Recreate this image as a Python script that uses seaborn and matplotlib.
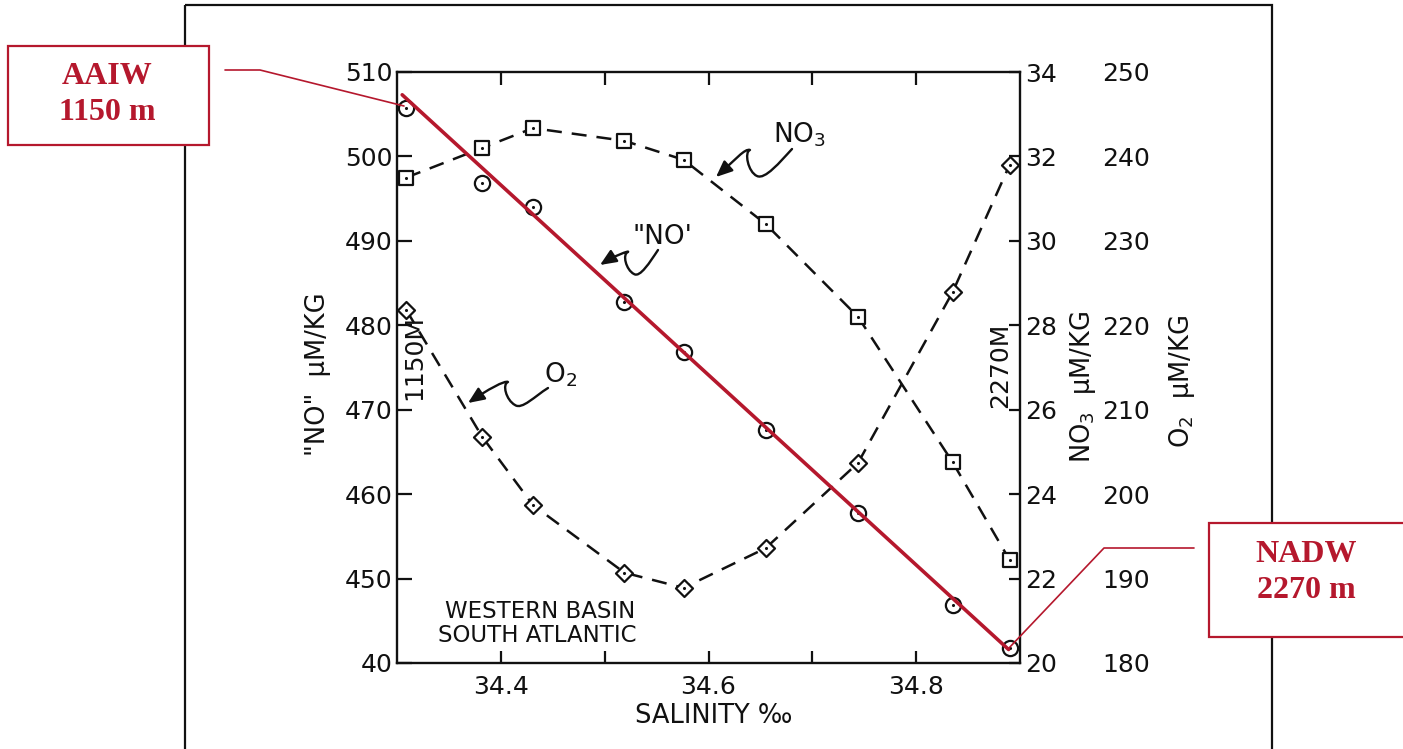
import numpy as np
import pandas as pd
import matplotlib
matplotlib.use("Agg")
import matplotlib.pyplot as plt
import seaborn as sns
from matplotlib.patches import Rectangle, FancyArrowPatch
from matplotlib.path import Path
from matplotlib.lines import Line2D
from matplotlib.transforms import Affine2D
from matplotlib.ticker import FixedLocator, FixedFormatter

# ---------------- data ----------------
salinity = [34.309, 34.382, 34.431, 34.519, 34.576, 34.655, 34.744, 34.835, 34.890]
no_values = [505.7, 496.9, 494.0, 482.8, 476.8, 467.6, 457.8, 446.9, 441.8]
no3_values = [31.5, 32.2, 32.67, 32.37, 31.92, 30.4, 28.2, 24.76, 22.44]
o2_values = [221.8, 206.8, 198.7, 190.7, 188.9, 193.6, 203.7, 223.9, 239.0]

# mixing line between the two end members (AAIW -> NADW)
mixing_salinity = [34.305, 34.889]
mixing_no = [507.3, 441.6]

x_major = [34.4, 34.6, 34.8]
x_major_labels = ["34.4", "34.6", "34.8"]
x_minor = [34.5, 34.7]
no_ticks = [440, 450, 460, 470, 480, 490, 500, 510]
no_tick_labels = ["40", "450", "460", "470", "480", "490", "500", "510"]
no3_ticks = [20, 22, 24, 26, 28, 30, 32, 34]
no3_tick_labels = ["20", "22", "24", "26", "28", "30", "32", "34"]
o2_ticks = [180, 190, 200, 210, 220, 230, 240, 250]
o2_tick_labels = ["180", "190", "200", "210", "220", "230", "240", "250"]

df = pd.DataFrame({"salinity": salinity, "NO": no_values,
                   "NO3": no3_values, "O2": o2_values})
mix = pd.DataFrame({"salinity": mixing_salinity, "NO": mixing_no})

# ---------------- style ----------------
sns.set_theme(style="white")
plt.rcParams["font.family"] = ["DejaVu Sans"]
ink = "#111111"
red = "#b5182d"
serif = ["Liberation Serif", "DejaVu Serif"]

W, H = 1403, 749
fig = plt.figure(figsize=(W / 100, H / 100), dpi=100)
fig.patch.set_facecolor("white")
px = Affine2D().scale(1 / W, -1 / H).translate(0, 1) + fig.transFigure

ax = fig.add_axes([397 / W, 1 - 663 / H, (1020 - 397) / W, (663 - 72) / H])
ax2 = ax.twinx()
ax3 = ax.twinx()
for a in (ax2, ax3):
    a.set_zorder(1)
    for s in a.spines.values():
        s.set_visible(False)
ax.set_zorder(2)
ax.patch.set_visible(False)

dash = (0, (6, 4))

# NO3 (squares) on ax2
sns.lineplot(data=df, x="salinity", y="NO3", ax=ax2, color=ink, lw=1.8,
             linestyle=dash, zorder=2)
sns.scatterplot(data=df, x="salinity", y="NO3", ax=ax2, marker="s", s=100,
                facecolor="white", edgecolor=ink, linewidth=1.6, zorder=4)
sns.scatterplot(data=df, x="salinity", y="NO3", ax=ax2, marker="o", s=5,
                color=ink, linewidth=0, zorder=5)

# O2 (diamonds) on ax3
sns.lineplot(data=df, x="salinity", y="O2", ax=ax3, color=ink, lw=1.8,
             linestyle=dash, zorder=2)
sns.scatterplot(data=df, x="salinity", y="O2", ax=ax3, marker="D", s=75,
                facecolor="white", edgecolor=ink, linewidth=1.6, zorder=4)
sns.scatterplot(data=df, x="salinity", y="O2", ax=ax3, marker="o", s=5,
                color=ink, linewidth=0, zorder=5)

# "NO" (circles) on host axis + mixing line
sns.scatterplot(data=df, x="salinity", y="NO", ax=ax, marker="o", s=120,
                facecolor="white", edgecolor=ink, linewidth=1.6, zorder=4)
sns.scatterplot(data=df, x="salinity", y="NO", ax=ax, marker="o", s=5,
                color=ink, linewidth=0, zorder=5)
sns.lineplot(data=mix, x="salinity", y="NO", ax=ax, color=red, lw=2.6,
             zorder=6)

# ---------------- axes ----------------
for a in (ax, ax2, ax3):
    a.set_xlim(34.3, 34.9)
    a.set_xlabel("")
    a.set_ylabel("")
    a.grid(False)
ax.set_ylim(440, 510)
ax2.set_ylim(20, 34)
ax3.set_ylim(180, 250)

for s in ax.spines.values():
    s.set_visible(True)
    s.set_linewidth(1.7)
    s.set_color(ink)

ax.xaxis.set_major_locator(FixedLocator(x_major))
ax.xaxis.set_major_formatter(FixedFormatter(x_major_labels))
ax.xaxis.set_minor_locator(FixedLocator(x_minor))
ax.tick_params(axis="x", which="both", direction="in", top=True, bottom=True,
               length=9, width=1.6, color=ink, labelsize=18, pad=8.5,
               labelcolor=ink)

ax.yaxis.set_major_locator(FixedLocator(no_ticks))
ax.yaxis.set_major_formatter(FixedFormatter(no_tick_labels))
ax.tick_params(axis="y", direction="in", left=True, right=False, length=11,
               width=1.6, color=ink, labelsize=18, pad=3, labelcolor=ink)

ax2.yaxis.set_major_locator(FixedLocator(no3_ticks))
ax2.yaxis.set_major_formatter(FixedFormatter(no3_tick_labels))
ax2.tick_params(axis="y", direction="in", length=8, width=1.6, color=ink,
                labelsize=18, pad=4, labelcolor=ink)

ax3.spines["right"].set_position(("outward", 59))
ax3.yaxis.set_major_locator(FixedLocator(o2_ticks))
ax3.yaxis.set_major_formatter(FixedFormatter(o2_tick_labels))
ax3.tick_params(axis="y", direction="out", length=0, labelsize=18, pad=0,
                labelcolor=ink)
ax2.tick_params(axis="x", which="both", length=0, labelbottom=False)
ax3.tick_params(axis="x", which="both", length=0, labelbottom=False)

# ---------------- axis titles ----------------
fig.text(318, 374, '"NO"  \u03bcM/KG', transform=px, rotation=90,
         ha="center", va="center", fontsize=18.5, color=ink)
fig.text(1083, 387, "NO$_3$  \u03bcM/KG", transform=px, rotation=90,
         ha="center", va="center", fontsize=18.5, color=ink)
fig.text(1182, 381, "O$_2$  \u03bcM/KG", transform=px, rotation=90,
         ha="center", va="center", fontsize=18.5, color=ink)
fig.text(714, 716, "SALINITY \u2030", transform=px, ha="center", va="center",
         fontsize=18.5, color=ink)

# ---------------- in-plot annotations ----------------
fig.text(540, 612, "WESTERN BASIN", transform=px, ha="center", va="center",
         fontsize=16.5, color=ink)
fig.text(537, 636, "SOUTH ATLANTIC", transform=px, ha="center", va="center",
         fontsize=16.5, color=ink)
fig.text(414, 357, "1150M", transform=px, rotation=90, ha="center",
         va="center", fontsize=18, color=ink)
fig.text(1000, 365, "2270M", transform=px, rotation=90, ha="center",
         va="center", fontsize=18, color=ink)
fig.text(800, 135, "NO$_3$", transform=px, ha="center", va="center",
         fontsize=19, color=ink)
fig.text(662, 237, '"NO\'', transform=px, ha="center", va="center",
         fontsize=19, color=ink)
fig.text(561, 375, "O$_2$", transform=px, ha="center", va="center",
         fontsize=19, color=ink)

C = Path.CURVE4
squiggles = [
    [(792, 149), (780, 162), (765, 180), (757, 176), (748, 172), (744, 152),
     (750, 150), (745, 148), (735, 160), (716, 177)],
    [(548, 388), (535, 396), (522, 410), (515, 405), (506, 400), (502, 384),
     (508, 382), (505, 380), (487, 390), (468, 403)],
    [(658, 250), (650, 262), (640, 278), (634, 274), (626, 270), (622, 254),
     (628, 252), (630, 250), (614, 256), (600, 265)],
]
for verts in squiggles:
    codes = [Path.MOVETO] + [C] * 9
    arr = FancyArrowPatch(path=Path(verts, codes),
                          arrowstyle="-|>,head_length=0.7,head_width=0.3",
                          mutation_scale=14, color=ink, lw=1.7, transform=px,
                          zorder=7)
    fig.add_artist(arr)

# ---------------- page frame and labelled boxes ----------------
fig.add_artist(Rectangle((185, 5), 1087, 800, transform=px, fill=False,
                         edgecolor=ink, lw=1.6, zorder=0.5))

fig.add_artist(Rectangle((8, 46), 201, 99, transform=px, facecolor="white",
                         edgecolor=red, lw=1.6, zorder=8))
fig.text(107, 77, "AAIW", transform=px, ha="center", va="center",
         fontsize=23, fontweight="bold", color=red, family=serif, zorder=9)
fig.text(107, 113, "1150 m", transform=px, ha="center", va="center",
         fontsize=23, fontweight="bold", color=red, family=serif, zorder=9)

fig.add_artist(Rectangle((1209, 523), 220, 114, transform=px,
                         facecolor="white", edgecolor=red, lw=1.6, zorder=8))
fig.text(1306, 555, "NADW", transform=px, ha="center", va="center",
         fontsize=23, fontweight="bold", color=red, family=serif, zorder=9)
fig.text(1306, 590, "2270 m", transform=px, ha="center", va="center",
         fontsize=23, fontweight="bold", color=red, family=serif, zorder=9)

fig.add_artist(Line2D([225, 260, 404], [70, 70, 106], transform=px,
                      color=red, lw=1.2, zorder=8))
fig.add_artist(Line2D([1009, 1104, 1194], [648, 548, 548], transform=px,
                      color=red, lw=1.2, zorder=8))

fig.savefig("out.png", dpi=100, facecolor="white")
